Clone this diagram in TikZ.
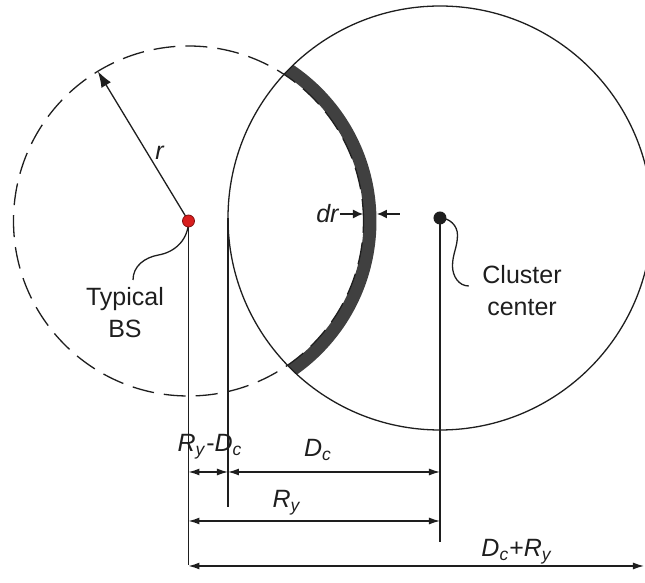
\documentclass[tikz,border=0pt]{standalone}
\usepackage{fontspec}
\setmainfont{Liberation Sans}
\usetikzlibrary{arrows.meta}
\definecolor{ink}{HTML}{1E1E1E}
\definecolor{band}{HTML}{404040}
\definecolor{bsred}{HTML}{D81E1E}
\tikzset{sc/.style={x=.5pt,y=.5pt,line width=.65pt,draw=ink,text=ink,font=\fontsize{12.5}{16}\selectfont},
  dm/.style={{Latex[length=5.5pt,width=3.5pt]}-{Latex[length=5.5pt,width=3.5pt]}},
  tip/.style={-{Latex[length=5pt,width=4.5pt]}},
  lbl/.style={inner sep=0pt,align=center}}
\newcommand{\sy}[2]{\textit{#1}\textsubscript{\textit{#2}}}

\begin{document}
\begin{tikzpicture}[sc]
  \useasboundingbox (-188.5,-362) rectangle (456.5,221);
  \coordinate (bs) at (0,0);
  \coordinate (cc) at (251.5,3);
  \coordinate (lp) at (39.5,3);
  \coordinate (rp) at (455.5,3);
  % ring of width dr inside the cluster
  \begin{scope}
    \clip (cc) circle (212);
    \draw[band,line width=6.5pt] (bs) circle (181.5);
  \end{scope}
  \draw (cc) circle (212);
  \draw[dash pattern=on 11pt off 5pt] (bs) circle (175);
  \coordinate (rt) at (121.2:175);
  \draw[-{Latex[length=8pt,width=5.5pt]}] (bs)--(rt);
  \node[lbl] (rl) at (-28.5,68) {\textit{r}};
  % dr
  \coordinate (din) at (174.5,7);
  \coordinate (dout) at (188.5,7);
  \coordinate (dr2) at (211.5,7);
  \node[lbl,anchor=east] (drl) at (151.5,7) {\textit{dr}};
  \draw[tip] (drl)--(din);
  \draw[tip] (dr2)--(dout);
  % dimension lines
  \foreach \n/\yy in {bs/-344,lp/-286,cc/-321}{\draw (\n)--(\n|-0,\yy);}
  \foreach \a/\b/\yy in {bs/lp/-251,lp/cc/-251,bs/cc/-300,bs/rp/-345}{\draw[dm] (\a|-0,\yy)--(\b|-0,\yy);}
  \node[lbl] (l1) at (21.5,-226) {\sy{R}{y}-\sy{D}{c}};
  \node[lbl] (l2) at (129.5,-229) {\sy{D}{c}};
  \node[lbl] (l3) at (98.5,-282) {\sy{R}{y}};
  \node[lbl] (l4) at (328.5,-331) {\sy{D}{c}+\sy{R}{y}};
  % callouts
  \node[lbl,anchor=north] (typ) at (-63.5,-66) {Typical\\BS};
  \node[lbl,anchor=north] (cl) at (333.5,-44) {Cluster\\center};
  \draw (bs) to[out=-90,in=10] (-30,-34) to[out=190,in=90] ([xshift=4pt,yshift=3.5pt]typ.north);
  \draw (cc) to[out=0,in=90] (269,-14) to[out=-90,in=90] (264,-45) to[out=-90,in=180] ([xshift=-6.5pt,yshift=-10.5pt]cl.north west);
  \node[circle,fill=bsred,draw=bsred!60!black,line width=.4pt,inner sep=0pt,minimum size=6pt] (bsd) at (bs) {};
  \node[circle,fill=ink,inner sep=0pt,minimum size=6.5pt] (ccd) at (cc) {};
\end{tikzpicture}
\end{document}
